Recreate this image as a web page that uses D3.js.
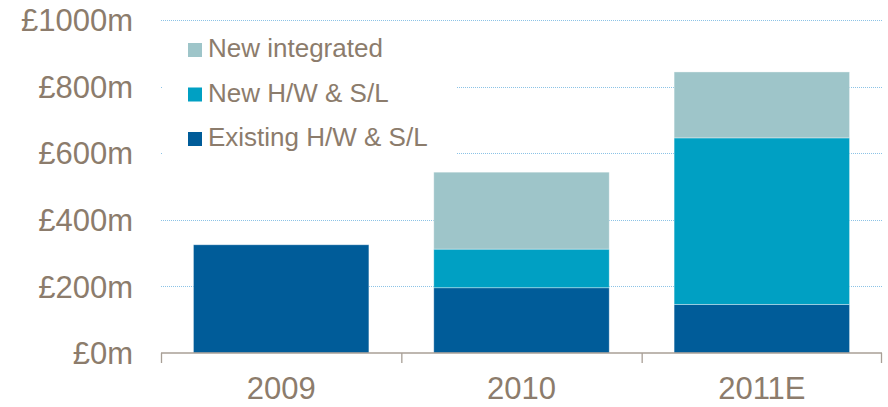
<!DOCTYPE html>
<html>
<head>
<meta charset="utf-8">
<script src="https://cdn.jsdelivr.net/npm/d3@7"></script>
<style>
  body { margin: 0; background: #fff; }
  text { font-family: "Liberation Sans", Arial, sans-serif; fill: #8c7c6c; }
</style>
</head>
<body>
<div class="chart"></div>
<script>
// categories and stacked series (values in £m)
var years = ["2009", "2010", "2011E"];
var existing = [325, 196, 146];
var newHW = [0, 116, 500];
var newIntegrated = [0, 231, 198];
var yTicks = [0, 200, 400, 600, 800, 1000];

var seriesNames = ["Existing H/W & S/L", "New H/W & S/L", "New integrated"];
var seriesColors = ["#005c99", "#00a0c3", "#9ec5c9"];

var width = 888, height = 407;
var margin = { top: 20, right: 6, bottom: 54, left: 161 };
var chart_width = width - margin.left - margin.right,
  chart_height = height - margin.top - margin.bottom;

var svg = d3.select(".chart").append("svg")
  .attr("width", width)
  .attr("height", height)
  .append("g")
  .attr("transform", "translate(" + margin.left + "," + margin.top + ")");

var xScale = d3.scaleBand().domain(years).range([0, chart_width])
  .paddingInner(0.27).paddingOuter(0.135);
var yScale = d3.scaleLinear().domain([0, 1000]).range([chart_height, 0]);

// table for stacking
var table = years.map(function (y, i) {
  return { year: y, s0: existing[i], s1: newHW[i], s2: newIntegrated[i] };
});
var stacked = d3.stack().keys(["s0", "s1", "s2"])(table);

// dotted gridlines (snapped to pixel centres)
svg.append("g").selectAll("line")
  .data(yTicks.slice(1))
  .enter().append("line")
  .attr("x1", 0).attr("x2", chart_width)
  .attr("y1", function (d) { return Math.round(yScale(d)) + 0.5; })
  .attr("y2", function (d) { return Math.round(yScale(d)) + 0.5; })
  .attr("stroke", "#8cc3e6")
  .attr("stroke-width", 1)
  .attr("stroke-dasharray", "1,1");

// legend background hides gridlines behind it
svg.append("rect")
  .attr("x", 2).attr("y", 12)
  .attr("width", 294).attr("height", 140)
  .attr("fill", "#fff");

// bars
svg.append("g").selectAll("g")
  .data(stacked)
  .enter().append("g")
  .attr("fill", function (d, i) { return seriesColors[i]; })
  .selectAll("rect")
  .data(function (d) { return d; })
  .enter().append("rect")
  .attr("x", function (d) { return xScale(d.data.year); })
  .attr("width", xScale.bandwidth())
  .attr("y", function (d) { return yScale(d[1]); })
  .attr("height", function (d) { return yScale(d[0]) - yScale(d[1]); })
  .attr("stroke", "rgba(255,255,255,0.45)")
  .attr("stroke-width", 0.8);

// x axis line and boundary ticks
var xAxisG = svg.append("g").attr("transform", "translate(0," + chart_height + ")");
xAxisG.append("line")
  .attr("x1", 0).attr("x2", chart_width)
  .attr("stroke", "#a89f96").attr("stroke-width", 1.3);
var step = xScale.step();
xAxisG.selectAll("line.tk")
  .data(d3.range(years.length + 1))
  .enter().append("line")
  .attr("class", "tk")
  .attr("x1", function (d) { return d === years.length ? chart_width - 0.5 : d * step + 0.5; })
  .attr("x2", function (d) { return d === years.length ? chart_width - 0.5 : d * step + 0.5; })
  .attr("y1", 0).attr("y2", 10)
  .attr("stroke", "#a89f96").attr("stroke-width", 1.3);
xAxisG.selectAll("text")
  .data(years)
  .enter().append("text")
  .attr("x", function (d) { return xScale(d) + xScale.bandwidth() / 2; })
  .attr("y", 46)
  .attr("text-anchor", "middle")
  .attr("font-size", "31px")
  .text(function (d) { return d; });

// y labels
svg.append("g").selectAll("text")
  .data(yTicks)
  .enter().append("text")
  .attr("x", -28)
  .attr("y", function (d) { return yScale(d); })
  .attr("dy", "0.36em")
  .attr("text-anchor", "end")
  .attr("font-size", "31px")
  .text(function (d) { return "£" + d + "m"; });

// legend, top entry first
var legendOrder = [2, 1, 0];
var legend = svg.append("g").attr("transform", "translate(27,23)");
legendOrder.forEach(function (s, i) {
  var row = legend.append("g").attr("transform", "translate(0," + (i * 44.5) + ")");
  row.append("rect")
    .attr("x", 0).attr("y", 0)
    .attr("width", 14).attr("height", 14)
    .attr("fill", seriesColors[s]);
  row.append("text")
    .attr("x", 20).attr("y", 14)
    .attr("font-size", "26px")
    .text(seriesNames[s]);
});
</script>
</body>
</html>
